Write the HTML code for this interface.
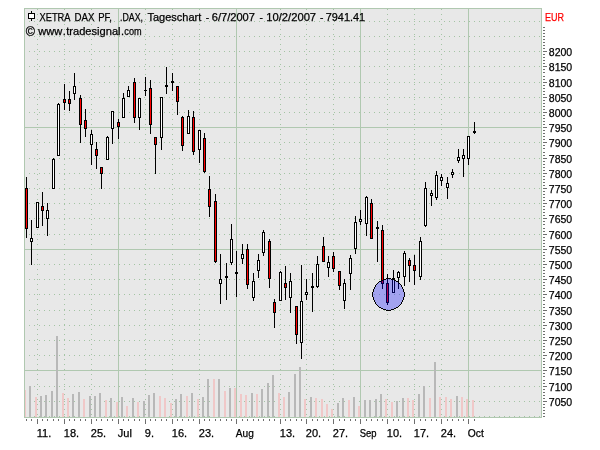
<!DOCTYPE html>
<html><head><meta charset="utf-8"><title>XETRA DAX PF</title>
<style>
html,body{margin:0;padding:0;background:#fff;}
svg{display:block}
text{font-family:"Liberation Sans",sans-serif;font-size:11px;fill:#000;stroke:#000;stroke-width:0.25px;}
</style></head><body>
<svg width="600" height="450" viewBox="0 0 600 450" shape-rendering="crispEdges">
<rect width="600" height="450" fill="#fff"/>
<rect x="24" y="8" width="518" height="410" fill="#e8e8e8"/>
<line x1="29" y1="416.5" x2="541" y2="416.5" stroke="#a4c4a4" stroke-dasharray="1 4"/>
<line x1="29" y1="401.5" x2="541" y2="401.5" stroke="#a4c4a4" stroke-dasharray="1 4"/>
<line x1="29" y1="386.5" x2="541" y2="386.5" stroke="#a4c4a4" stroke-dasharray="1 4"/>
<rect x="24" y="370" width="518" height="1" fill="#b0c8b0"/>
<line x1="29" y1="355.5" x2="541" y2="355.5" stroke="#a4c4a4" stroke-dasharray="1 4"/>
<line x1="29" y1="340.5" x2="541" y2="340.5" stroke="#a4c4a4" stroke-dasharray="1 4"/>
<line x1="29" y1="325.5" x2="541" y2="325.5" stroke="#a4c4a4" stroke-dasharray="1 4"/>
<line x1="29" y1="310.5" x2="541" y2="310.5" stroke="#a4c4a4" stroke-dasharray="1 4"/>
<line x1="29" y1="294.5" x2="541" y2="294.5" stroke="#a4c4a4" stroke-dasharray="1 4"/>
<line x1="29" y1="279.5" x2="541" y2="279.5" stroke="#a4c4a4" stroke-dasharray="1 4"/>
<line x1="29" y1="264.5" x2="541" y2="264.5" stroke="#a4c4a4" stroke-dasharray="1 4"/>
<rect x="24" y="249" width="518" height="1" fill="#b0c8b0"/>
<line x1="29" y1="234.5" x2="541" y2="234.5" stroke="#a4c4a4" stroke-dasharray="1 4"/>
<line x1="29" y1="218.5" x2="541" y2="218.5" stroke="#a4c4a4" stroke-dasharray="1 4"/>
<line x1="29" y1="203.5" x2="541" y2="203.5" stroke="#a4c4a4" stroke-dasharray="1 4"/>
<line x1="29" y1="188.5" x2="541" y2="188.5" stroke="#a4c4a4" stroke-dasharray="1 4"/>
<line x1="29" y1="173.5" x2="541" y2="173.5" stroke="#a4c4a4" stroke-dasharray="1 4"/>
<line x1="29" y1="158.5" x2="541" y2="158.5" stroke="#a4c4a4" stroke-dasharray="1 4"/>
<line x1="29" y1="142.5" x2="541" y2="142.5" stroke="#a4c4a4" stroke-dasharray="1 4"/>
<rect x="24" y="127" width="518" height="1" fill="#b0c8b0"/>
<line x1="29" y1="112.5" x2="541" y2="112.5" stroke="#a4c4a4" stroke-dasharray="1 4"/>
<line x1="29" y1="97.5" x2="541" y2="97.5" stroke="#a4c4a4" stroke-dasharray="1 4"/>
<line x1="29" y1="82.5" x2="541" y2="82.5" stroke="#a4c4a4" stroke-dasharray="1 4"/>
<line x1="29" y1="66.5" x2="541" y2="66.5" stroke="#a4c4a4" stroke-dasharray="1 4"/>
<line x1="29" y1="51.5" x2="541" y2="51.5" stroke="#a4c4a4" stroke-dasharray="1 4"/>
<line x1="29" y1="36.5" x2="541" y2="36.5" stroke="#a4c4a4" stroke-dasharray="1 4"/>
<line x1="29" y1="21.5" x2="541" y2="21.5" stroke="#a4c4a4" stroke-dasharray="1 4"/>
<rect x="118" y="8" width="1" height="410" fill="#b0c8b0"/>
<rect x="236" y="8" width="1" height="410" fill="#b0c8b0"/>
<rect x="360" y="8" width="1" height="410" fill="#b0c8b0"/>
<rect x="468" y="8" width="1" height="410" fill="#b0c8b0"/>
<line x1="37.5" y1="9" x2="37.5" y2="417" stroke="#a4c4a4" stroke-dasharray="1 4"/>
<line x1="64.5" y1="9" x2="64.5" y2="417" stroke="#a4c4a4" stroke-dasharray="1 4"/>
<line x1="91.5" y1="9" x2="91.5" y2="417" stroke="#a4c4a4" stroke-dasharray="1 4"/>
<line x1="145.5" y1="9" x2="145.5" y2="417" stroke="#a4c4a4" stroke-dasharray="1 4"/>
<line x1="172.5" y1="9" x2="172.5" y2="417" stroke="#a4c4a4" stroke-dasharray="1 4"/>
<line x1="199.5" y1="9" x2="199.5" y2="417" stroke="#a4c4a4" stroke-dasharray="1 4"/>
<line x1="280.5" y1="9" x2="280.5" y2="417" stroke="#a4c4a4" stroke-dasharray="1 4"/>
<line x1="306.5" y1="9" x2="306.5" y2="417" stroke="#a4c4a4" stroke-dasharray="1 4"/>
<line x1="333.5" y1="9" x2="333.5" y2="417" stroke="#a4c4a4" stroke-dasharray="1 4"/>
<line x1="387.5" y1="9" x2="387.5" y2="417" stroke="#a4c4a4" stroke-dasharray="1 4"/>
<line x1="414.5" y1="9" x2="414.5" y2="417" stroke="#a4c4a4" stroke-dasharray="1 4"/>
<line x1="441.5" y1="9" x2="441.5" y2="417" stroke="#a4c4a4" stroke-dasharray="1 4"/>
<rect x="24" y="390" width="2" height="27" fill="#f0c8c8"/>
<rect x="29" y="386" width="2" height="31" fill="#b8b8b8"/>
<rect x="35" y="397" width="2" height="20" fill="#f0c8c8"/>
<rect x="40" y="396" width="2" height="21" fill="#b8b8b8"/>
<rect x="45" y="395" width="2" height="22" fill="#b8b8b8"/>
<rect x="51" y="391" width="2" height="26" fill="#b8b8b8"/>
<rect x="56" y="336" width="2" height="81" fill="#b8b8b8"/>
<rect x="62" y="393" width="2" height="24" fill="#f0c8c8"/>
<rect x="67" y="398" width="2" height="19" fill="#f0c8c8"/>
<rect x="72" y="394" width="2" height="23" fill="#b8b8b8"/>
<rect x="78" y="392" width="2" height="25" fill="#b8b8b8"/>
<rect x="83" y="399" width="2" height="18" fill="#f0c8c8"/>
<rect x="89" y="396" width="2" height="21" fill="#b8b8b8"/>
<rect x="94" y="396" width="2" height="21" fill="#b8b8b8"/>
<rect x="99" y="393" width="2" height="24" fill="#b8b8b8"/>
<rect x="105" y="400" width="2" height="17" fill="#f0c8c8"/>
<rect x="110" y="398" width="2" height="19" fill="#b8b8b8"/>
<rect x="116" y="402" width="2" height="15" fill="#f0c8c8"/>
<rect x="121" y="397" width="2" height="20" fill="#b8b8b8"/>
<rect x="126" y="406" width="2" height="11" fill="#f0c8c8"/>
<rect x="132" y="398" width="2" height="19" fill="#b8b8b8"/>
<rect x="137" y="402" width="2" height="15" fill="#f0c8c8"/>
<rect x="143" y="401" width="2" height="16" fill="#b8b8b8"/>
<rect x="148" y="395" width="2" height="22" fill="#b8b8b8"/>
<rect x="153" y="393" width="2" height="24" fill="#b8b8b8"/>
<rect x="159" y="396" width="2" height="21" fill="#f0c8c8"/>
<rect x="164" y="398" width="2" height="19" fill="#f0c8c8"/>
<rect x="170" y="403" width="2" height="14" fill="#f0c8c8"/>
<rect x="175" y="399" width="2" height="18" fill="#b8b8b8"/>
<rect x="180" y="394" width="2" height="23" fill="#b8b8b8"/>
<rect x="186" y="396" width="2" height="21" fill="#f0c8c8"/>
<rect x="191" y="393" width="2" height="24" fill="#b8b8b8"/>
<rect x="197" y="399" width="2" height="18" fill="#f0c8c8"/>
<rect x="202" y="397" width="2" height="20" fill="#b8b8b8"/>
<rect x="207" y="379" width="2" height="38" fill="#b8b8b8"/>
<rect x="213" y="379" width="2" height="38" fill="#f0c8c8"/>
<rect x="218" y="379" width="2" height="38" fill="#b8b8b8"/>
<rect x="224" y="391" width="2" height="26" fill="#f0c8c8"/>
<rect x="229" y="388" width="2" height="29" fill="#b8b8b8"/>
<rect x="234" y="388" width="2" height="29" fill="#f0c8c8"/>
<rect x="240" y="394" width="2" height="23" fill="#f0c8c8"/>
<rect x="245" y="395" width="2" height="22" fill="#f0c8c8"/>
<rect x="251" y="393" width="2" height="24" fill="#b8b8b8"/>
<rect x="256" y="394" width="2" height="23" fill="#f0c8c8"/>
<rect x="261" y="389" width="2" height="28" fill="#b8b8b8"/>
<rect x="267" y="383" width="2" height="34" fill="#b8b8b8"/>
<rect x="272" y="375" width="2" height="42" fill="#b8b8b8"/>
<rect x="278" y="393" width="2" height="24" fill="#f0c8c8"/>
<rect x="283" y="397" width="2" height="20" fill="#f0c8c8"/>
<rect x="288" y="392" width="2" height="25" fill="#b8b8b8"/>
<rect x="294" y="374" width="2" height="43" fill="#b8b8b8"/>
<rect x="299" y="367" width="2" height="50" fill="#b8b8b8"/>
<rect x="304" y="399" width="2" height="18" fill="#f0c8c8"/>
<rect x="310" y="397" width="2" height="20" fill="#b8b8b8"/>
<rect x="315" y="398" width="2" height="19" fill="#f0c8c8"/>
<rect x="321" y="399" width="2" height="18" fill="#f0c8c8"/>
<rect x="326" y="404" width="2" height="13" fill="#f0c8c8"/>
<rect x="331" y="409" width="2" height="8" fill="#f0c8c8"/>
<rect x="337" y="403" width="2" height="14" fill="#b8b8b8"/>
<rect x="342" y="398" width="2" height="19" fill="#b8b8b8"/>
<rect x="348" y="400" width="2" height="17" fill="#f0c8c8"/>
<rect x="353" y="397" width="2" height="20" fill="#b8b8b8"/>
<rect x="358" y="406" width="2" height="11" fill="#f0c8c8"/>
<rect x="364" y="400" width="2" height="17" fill="#b8b8b8"/>
<rect x="369" y="400" width="2" height="17" fill="#b8b8b8"/>
<rect x="375" y="399" width="2" height="18" fill="#b8b8b8"/>
<rect x="380" y="394" width="2" height="23" fill="#b8b8b8"/>
<rect x="385" y="399" width="2" height="18" fill="#f0c8c8"/>
<rect x="391" y="402" width="2" height="15" fill="#f0c8c8"/>
<rect x="396" y="401" width="2" height="16" fill="#b8b8b8"/>
<rect x="402" y="398" width="2" height="19" fill="#b8b8b8"/>
<rect x="407" y="398" width="2" height="19" fill="#f0c8c8"/>
<rect x="412" y="400" width="2" height="17" fill="#f0c8c8"/>
<rect x="418" y="394" width="2" height="23" fill="#b8b8b8"/>
<rect x="423" y="386" width="2" height="31" fill="#b8b8b8"/>
<rect x="429" y="398" width="2" height="19" fill="#f0c8c8"/>
<rect x="434" y="362" width="2" height="55" fill="#b8b8b8"/>
<rect x="439" y="397" width="2" height="20" fill="#f0c8c8"/>
<rect x="445" y="397" width="2" height="20" fill="#f0c8c8"/>
<rect x="450" y="399" width="2" height="18" fill="#f0c8c8"/>
<rect x="456" y="396" width="2" height="21" fill="#b8b8b8"/>
<rect x="461" y="397" width="2" height="20" fill="#f0c8c8"/>
<rect x="466" y="399" width="2" height="18" fill="#f0c8c8"/>
<rect x="472" y="400" width="2" height="17" fill="#f0c8c8"/>
<rect x="24.5" y="8.5" width="517" height="409" fill="none" stroke="#b0c8b0"/>
<rect x="26" y="177" width="1" height="61" fill="#000"/>
<rect x="25" y="188" width="3" height="41" fill="#000"/>
<rect x="26" y="189" width="1" height="39" fill="#ff0000"/>
<rect x="31" y="220" width="1" height="45" fill="#000"/>
<rect x="30" y="238" width="3" height="4" fill="#000"/>
<rect x="31" y="239" width="1" height="2" fill="#fff"/>
<rect x="37" y="202" width="1" height="26" fill="#000"/>
<rect x="36" y="202" width="3" height="26" fill="#000"/>
<rect x="37" y="203" width="1" height="24" fill="#fff"/>
<rect x="42" y="192" width="1" height="34" fill="#000"/>
<rect x="41" y="206" width="3" height="5" fill="#000"/>
<rect x="42" y="207" width="1" height="3" fill="#ff0000"/>
<rect x="47" y="203" width="1" height="33" fill="#000"/>
<rect x="46" y="210" width="3" height="9" fill="#000"/>
<rect x="47" y="211" width="1" height="7" fill="#fff"/>
<rect x="53" y="158" width="1" height="31" fill="#000"/>
<rect x="52" y="159" width="3" height="30" fill="#000"/>
<rect x="53" y="160" width="1" height="28" fill="#fff"/>
<rect x="58" y="103" width="1" height="53" fill="#000"/>
<rect x="57" y="104" width="3" height="52" fill="#000"/>
<rect x="58" y="105" width="1" height="50" fill="#fff"/>
<rect x="64" y="84" width="1" height="26" fill="#000"/>
<rect x="63" y="99" width="3" height="4" fill="#000"/>
<rect x="64" y="100" width="1" height="2" fill="#ff0000"/>
<rect x="69" y="91" width="1" height="20" fill="#000"/>
<rect x="68" y="99" width="3" height="5" fill="#000"/>
<rect x="69" y="100" width="1" height="3" fill="#ff0000"/>
<rect x="74" y="73" width="1" height="27" fill="#000"/>
<rect x="73" y="86" width="3" height="8" fill="#000"/>
<rect x="74" y="87" width="1" height="6" fill="#fff"/>
<rect x="80" y="95" width="1" height="48" fill="#000"/>
<rect x="79" y="98" width="3" height="27" fill="#000"/>
<rect x="80" y="99" width="1" height="25" fill="#ff0000"/>
<rect x="85" y="109" width="1" height="28" fill="#000"/>
<rect x="84" y="120" width="3" height="9" fill="#000"/>
<rect x="85" y="121" width="1" height="7" fill="#ff0000"/>
<rect x="91" y="130" width="1" height="35" fill="#000"/>
<rect x="90" y="134" width="3" height="11" fill="#000"/>
<rect x="91" y="135" width="1" height="9" fill="#fff"/>
<rect x="96" y="142" width="1" height="27" fill="#000"/>
<rect x="95" y="149" width="3" height="7" fill="#000"/>
<rect x="96" y="150" width="1" height="5" fill="#ff0000"/>
<rect x="101" y="167" width="1" height="22" fill="#000"/>
<rect x="100" y="167" width="3" height="7" fill="#000"/>
<rect x="101" y="168" width="1" height="5" fill="#ff0000"/>
<rect x="107" y="136" width="1" height="24" fill="#000"/>
<rect x="106" y="137" width="3" height="23" fill="#000"/>
<rect x="107" y="138" width="1" height="21" fill="#fff"/>
<rect x="112" y="111" width="1" height="33" fill="#000"/>
<rect x="111" y="111" width="3" height="18" fill="#000"/>
<rect x="112" y="112" width="1" height="16" fill="#fff"/>
<rect x="118" y="119" width="1" height="20" fill="#000"/>
<rect x="117" y="122" width="3" height="5" fill="#000"/>
<rect x="118" y="123" width="1" height="3" fill="#ff0000"/>
<rect x="123" y="93" width="1" height="25" fill="#000"/>
<rect x="122" y="98" width="3" height="20" fill="#000"/>
<rect x="123" y="99" width="1" height="18" fill="#fff"/>
<rect x="128" y="86" width="1" height="11" fill="#000"/>
<rect x="127" y="90" width="3" height="7" fill="#000"/>
<rect x="128" y="91" width="1" height="5" fill="#fff"/>
<rect x="134" y="78" width="1" height="45" fill="#000"/>
<rect x="133" y="82" width="3" height="36" fill="#000"/>
<rect x="134" y="83" width="1" height="34" fill="#ff0000"/>
<rect x="139" y="98" width="1" height="32" fill="#000"/>
<rect x="138" y="98" width="3" height="20" fill="#000"/>
<rect x="139" y="99" width="1" height="18" fill="#fff"/>
<rect x="145" y="77" width="1" height="19" fill="#000"/>
<rect x="144" y="90" width="3" height="1" fill="#000"/>
<rect x="150" y="80" width="1" height="54" fill="#000"/>
<rect x="149" y="88" width="3" height="37" fill="#000"/>
<rect x="150" y="89" width="1" height="35" fill="#ff0000"/>
<rect x="155" y="137" width="1" height="37" fill="#000"/>
<rect x="154" y="137" width="3" height="8" fill="#000"/>
<rect x="155" y="138" width="1" height="6" fill="#ff0000"/>
<rect x="161" y="97" width="1" height="53" fill="#000"/>
<rect x="160" y="97" width="3" height="41" fill="#000"/>
<rect x="161" y="98" width="1" height="39" fill="#fff"/>
<rect x="166" y="67" width="1" height="27" fill="#000"/>
<rect x="165" y="85" width="3" height="2" fill="#000"/>
<rect x="172" y="73" width="1" height="18" fill="#000"/>
<rect x="171" y="81" width="3" height="2" fill="#000"/>
<rect x="177" y="86" width="1" height="29" fill="#000"/>
<rect x="176" y="86" width="3" height="16" fill="#000"/>
<rect x="177" y="87" width="1" height="14" fill="#ff0000"/>
<rect x="182" y="116" width="1" height="35" fill="#000"/>
<rect x="181" y="117" width="3" height="29" fill="#000"/>
<rect x="182" y="118" width="1" height="27" fill="#ff0000"/>
<rect x="188" y="110" width="1" height="24" fill="#000"/>
<rect x="187" y="116" width="3" height="18" fill="#000"/>
<rect x="188" y="117" width="1" height="16" fill="#fff"/>
<rect x="193" y="111" width="1" height="44" fill="#000"/>
<rect x="192" y="117" width="3" height="35" fill="#000"/>
<rect x="193" y="118" width="1" height="33" fill="#ff0000"/>
<rect x="199" y="130" width="1" height="33" fill="#000"/>
<rect x="198" y="130" width="3" height="20" fill="#000"/>
<rect x="199" y="131" width="1" height="18" fill="#fff"/>
<rect x="204" y="133" width="1" height="40" fill="#000"/>
<rect x="203" y="138" width="3" height="34" fill="#000"/>
<rect x="204" y="139" width="1" height="32" fill="#ff0000"/>
<rect x="209" y="176" width="1" height="41" fill="#000"/>
<rect x="208" y="189" width="3" height="18" fill="#000"/>
<rect x="209" y="190" width="1" height="16" fill="#ff0000"/>
<rect x="215" y="194" width="1" height="69" fill="#000"/>
<rect x="214" y="201" width="3" height="61" fill="#000"/>
<rect x="215" y="202" width="1" height="59" fill="#ff0000"/>
<rect x="220" y="254" width="1" height="50" fill="#000"/>
<rect x="219" y="279" width="3" height="5" fill="#000"/>
<rect x="220" y="280" width="1" height="3" fill="#fff"/>
<rect x="226" y="263" width="1" height="37" fill="#000"/>
<rect x="225" y="276" width="3" height="2" fill="#000"/>
<rect x="231" y="224" width="1" height="41" fill="#000"/>
<rect x="230" y="239" width="3" height="24" fill="#000"/>
<rect x="231" y="240" width="1" height="22" fill="#fff"/>
<rect x="236" y="251" width="1" height="46" fill="#000"/>
<rect x="235" y="272" width="3" height="2" fill="#000"/>
<rect x="242" y="244" width="1" height="20" fill="#000"/>
<rect x="241" y="254" width="3" height="5" fill="#000"/>
<rect x="242" y="255" width="1" height="3" fill="#fff"/>
<rect x="247" y="244" width="1" height="45" fill="#000"/>
<rect x="246" y="249" width="3" height="36" fill="#000"/>
<rect x="247" y="250" width="1" height="34" fill="#ff0000"/>
<rect x="253" y="273" width="1" height="28" fill="#000"/>
<rect x="252" y="281" width="3" height="17" fill="#000"/>
<rect x="253" y="282" width="1" height="15" fill="#fff"/>
<rect x="258" y="254" width="1" height="24" fill="#000"/>
<rect x="257" y="260" width="3" height="11" fill="#000"/>
<rect x="258" y="261" width="1" height="9" fill="#fff"/>
<rect x="263" y="230" width="1" height="26" fill="#000"/>
<rect x="262" y="232" width="3" height="21" fill="#000"/>
<rect x="263" y="233" width="1" height="19" fill="#fff"/>
<rect x="269" y="239" width="1" height="49" fill="#000"/>
<rect x="268" y="241" width="3" height="38" fill="#000"/>
<rect x="269" y="242" width="1" height="36" fill="#ff0000"/>
<rect x="274" y="299" width="1" height="29" fill="#000"/>
<rect x="273" y="302" width="3" height="11" fill="#000"/>
<rect x="274" y="303" width="1" height="9" fill="#ff0000"/>
<rect x="280" y="271" width="1" height="30" fill="#000"/>
<rect x="279" y="272" width="3" height="29" fill="#000"/>
<rect x="280" y="273" width="1" height="27" fill="#fff"/>
<rect x="285" y="266" width="1" height="34" fill="#000"/>
<rect x="284" y="283" width="3" height="5" fill="#000"/>
<rect x="285" y="284" width="1" height="3" fill="#ff0000"/>
<rect x="290" y="273" width="1" height="40" fill="#000"/>
<rect x="289" y="281" width="3" height="17" fill="#000"/>
<rect x="290" y="282" width="1" height="15" fill="#fff"/>
<rect x="296" y="306" width="1" height="38" fill="#000"/>
<rect x="295" y="306" width="3" height="29" fill="#000"/>
<rect x="296" y="307" width="1" height="27" fill="#ff0000"/>
<rect x="301" y="265" width="1" height="94" fill="#000"/>
<rect x="300" y="301" width="3" height="42" fill="#000"/>
<rect x="301" y="302" width="1" height="40" fill="#fff"/>
<rect x="306" y="279" width="1" height="21" fill="#000"/>
<rect x="305" y="292" width="3" height="3" fill="#000"/>
<rect x="306" y="293" width="1" height="1" fill="#fff"/>
<rect x="312" y="273" width="1" height="39" fill="#000"/>
<rect x="311" y="286" width="3" height="2" fill="#000"/>
<rect x="317" y="256" width="1" height="32" fill="#000"/>
<rect x="316" y="264" width="3" height="23" fill="#000"/>
<rect x="317" y="265" width="1" height="21" fill="#fff"/>
<rect x="323" y="237" width="1" height="25" fill="#000"/>
<rect x="322" y="246" width="3" height="16" fill="#000"/>
<rect x="323" y="247" width="1" height="14" fill="#ff0000"/>
<rect x="328" y="256" width="1" height="21" fill="#000"/>
<rect x="327" y="262" width="3" height="6" fill="#000"/>
<rect x="328" y="263" width="1" height="4" fill="#fff"/>
<rect x="333" y="252" width="1" height="20" fill="#000"/>
<rect x="332" y="256" width="3" height="13" fill="#000"/>
<rect x="333" y="257" width="1" height="11" fill="#ff0000"/>
<rect x="339" y="271" width="1" height="19" fill="#000"/>
<rect x="338" y="271" width="3" height="15" fill="#000"/>
<rect x="339" y="272" width="1" height="13" fill="#ff0000"/>
<rect x="344" y="279" width="1" height="30" fill="#000"/>
<rect x="343" y="283" width="3" height="18" fill="#000"/>
<rect x="344" y="284" width="1" height="16" fill="#fff"/>
<rect x="350" y="255" width="1" height="35" fill="#000"/>
<rect x="349" y="258" width="3" height="16" fill="#000"/>
<rect x="350" y="259" width="1" height="14" fill="#fff"/>
<rect x="355" y="216" width="1" height="38" fill="#000"/>
<rect x="354" y="222" width="3" height="27" fill="#000"/>
<rect x="355" y="223" width="1" height="25" fill="#fff"/>
<rect x="360" y="210" width="1" height="15" fill="#000"/>
<rect x="359" y="219" width="3" height="3" fill="#000"/>
<rect x="360" y="220" width="1" height="1" fill="#fff"/>
<rect x="366" y="196" width="1" height="40" fill="#000"/>
<rect x="365" y="197" width="3" height="27" fill="#000"/>
<rect x="366" y="198" width="1" height="25" fill="#fff"/>
<rect x="371" y="199" width="1" height="40" fill="#000"/>
<rect x="370" y="203" width="3" height="36" fill="#000"/>
<rect x="371" y="204" width="1" height="34" fill="#ff0000"/>
<rect x="377" y="221" width="1" height="41" fill="#000"/>
<rect x="376" y="227" width="3" height="2" fill="#000"/>
<rect x="382" y="225" width="1" height="64" fill="#000"/>
<rect x="381" y="230" width="3" height="54" fill="#000"/>
<rect x="382" y="231" width="1" height="52" fill="#ff0000"/>
<rect x="387" y="274" width="1" height="31" fill="#000"/>
<rect x="386" y="283" width="3" height="20" fill="#000"/>
<rect x="387" y="284" width="1" height="18" fill="#ff0000"/>
<rect x="393" y="270" width="1" height="23" fill="#000"/>
<rect x="392" y="278" width="3" height="15" fill="#000"/>
<rect x="393" y="279" width="1" height="13" fill="#fff"/>
<rect x="398" y="271" width="1" height="18" fill="#000"/>
<rect x="397" y="272" width="3" height="6" fill="#000"/>
<rect x="398" y="273" width="1" height="4" fill="#fff"/>
<rect x="404" y="251" width="1" height="35" fill="#000"/>
<rect x="403" y="253" width="3" height="24" fill="#000"/>
<rect x="404" y="254" width="1" height="22" fill="#fff"/>
<rect x="409" y="258" width="1" height="24" fill="#000"/>
<rect x="408" y="260" width="3" height="6" fill="#000"/>
<rect x="409" y="261" width="1" height="4" fill="#ff0000"/>
<rect x="414" y="255" width="1" height="30" fill="#000"/>
<rect x="413" y="265" width="3" height="6" fill="#000"/>
<rect x="414" y="266" width="1" height="4" fill="#ff0000"/>
<rect x="420" y="237" width="1" height="43" fill="#000"/>
<rect x="419" y="241" width="3" height="36" fill="#000"/>
<rect x="420" y="242" width="1" height="34" fill="#fff"/>
<rect x="425" y="182" width="1" height="45" fill="#000"/>
<rect x="424" y="188" width="3" height="38" fill="#000"/>
<rect x="425" y="189" width="1" height="36" fill="#fff"/>
<rect x="431" y="190" width="1" height="16" fill="#000"/>
<rect x="430" y="193" width="3" height="3" fill="#000"/>
<rect x="431" y="194" width="1" height="1" fill="#fff"/>
<rect x="436" y="171" width="1" height="29" fill="#000"/>
<rect x="435" y="175" width="3" height="23" fill="#000"/>
<rect x="436" y="176" width="1" height="21" fill="#fff"/>
<rect x="441" y="174" width="1" height="12" fill="#000"/>
<rect x="440" y="177" width="3" height="4" fill="#000"/>
<rect x="441" y="178" width="1" height="2" fill="#fff"/>
<rect x="447" y="177" width="1" height="22" fill="#000"/>
<rect x="446" y="183" width="3" height="5" fill="#000"/>
<rect x="447" y="184" width="1" height="3" fill="#fff"/>
<rect x="452" y="169" width="1" height="9" fill="#000"/>
<rect x="451" y="172" width="3" height="3" fill="#000"/>
<rect x="452" y="173" width="1" height="1" fill="#fff"/>
<rect x="458" y="149" width="1" height="14" fill="#000"/>
<rect x="457" y="157" width="3" height="4" fill="#000"/>
<rect x="458" y="158" width="1" height="2" fill="#fff"/>
<rect x="463" y="149" width="1" height="28" fill="#000"/>
<rect x="462" y="155" width="3" height="4" fill="#000"/>
<rect x="463" y="156" width="1" height="2" fill="#fff"/>
<rect x="468" y="136" width="1" height="29" fill="#000"/>
<rect x="467" y="136" width="3" height="23" fill="#000"/>
<rect x="468" y="137" width="1" height="21" fill="#fff"/>
<path d="M386 278h5v1h-5zM383 279h11v1h-11zM381 280h15v1h-15zM379 281h19v1h-19zM378 282h21v1h-21zM377 283h23v1h-23zM376 284h25v1h-25zM375 285h27v1h-27zM375 286h27v1h-27zM374 287h29v1h-29zM374 288h29v1h-29zM373 289h31v1h-31zM373 290h31v1h-31zM373 291h31v1h-31zM372 292h33v1h-33zM372 293h33v1h-33zM372 294h33v1h-33zM372 295h33v1h-33zM372 296h33v1h-33zM373 297h31v1h-31zM373 298h31v1h-31zM373 299h31v1h-31zM374 300h29v1h-29zM374 301h29v1h-29zM375 302h27v1h-27zM375 303h27v1h-27zM376 304h25v1h-25zM377 305h23v1h-23zM378 306h21v1h-21zM379 307h19v1h-19zM381 308h15v1h-15zM383 309h11v1h-11zM386 310h5v1h-5z" fill="rgba(0,0,255,0.3)"/>
<path d="M386 278h5v1h-5zM383 279h3v1h-3zM391 279h3v1h-3zM381 280h2v1h-2zM394 280h2v1h-2zM379 281h2v1h-2zM396 281h2v1h-2zM378 282h1v1h-1zM398 282h1v1h-1zM377 283h1v1h-1zM399 283h1v1h-1zM376 284h1v1h-1zM400 284h1v1h-1zM375 285h1v1h-1zM401 285h1v1h-1zM375 286h1v1h-1zM401 286h1v1h-1zM374 287h1v1h-1zM402 287h1v1h-1zM374 288h1v1h-1zM402 288h1v1h-1zM373 289h1v1h-1zM403 289h1v1h-1zM373 290h1v1h-1zM403 290h1v1h-1zM373 291h1v1h-1zM403 291h1v1h-1zM372 292h1v1h-1zM404 292h1v1h-1zM372 293h1v1h-1zM404 293h1v1h-1zM372 294h1v1h-1zM404 294h1v1h-1zM372 295h1v1h-1zM404 295h1v1h-1zM372 296h1v1h-1zM404 296h1v1h-1zM373 297h1v1h-1zM403 297h1v1h-1zM373 298h1v1h-1zM403 298h1v1h-1zM373 299h1v1h-1zM403 299h1v1h-1zM374 300h1v1h-1zM402 300h1v1h-1zM374 301h1v1h-1zM402 301h1v1h-1zM375 302h1v1h-1zM401 302h1v1h-1zM375 303h1v1h-1zM401 303h1v1h-1zM376 304h1v1h-1zM400 304h1v1h-1zM377 305h1v1h-1zM399 305h1v1h-1zM378 306h1v1h-1zM398 306h1v1h-1zM379 307h2v1h-2zM396 307h2v1h-2zM381 308h2v1h-2zM394 308h2v1h-2zM383 309h3v1h-3zM391 309h3v1h-3zM386 310h5v1h-5z" fill="#000"/>
<rect x="474" y="122" width="1" height="12" fill="#000"/>
<rect x="473" y="131" width="3" height="2" fill="#000"/>
<rect x="543" y="27" width="2" height="1" fill="#6e6e6e"/>
<rect x="543" y="30" width="2" height="1" fill="#6e6e6e"/>
<rect x="543" y="33" width="2" height="1" fill="#6e6e6e"/>
<rect x="543" y="36" width="2" height="1" fill="#6e6e6e"/>
<rect x="543" y="39" width="2" height="1" fill="#6e6e6e"/>
<rect x="543" y="42" width="2" height="1" fill="#6e6e6e"/>
<rect x="543" y="45" width="2" height="1" fill="#6e6e6e"/>
<rect x="543" y="48" width="2" height="1" fill="#6e6e6e"/>
<rect x="543" y="51" width="4" height="1" fill="#6e6e6e"/>
<rect x="543" y="54" width="2" height="1" fill="#6e6e6e"/>
<rect x="543" y="57" width="2" height="1" fill="#6e6e6e"/>
<rect x="543" y="60" width="2" height="1" fill="#6e6e6e"/>
<rect x="543" y="63" width="2" height="1" fill="#6e6e6e"/>
<rect x="543" y="66" width="4" height="1" fill="#6e6e6e"/>
<rect x="543" y="69" width="2" height="1" fill="#6e6e6e"/>
<rect x="543" y="72" width="2" height="1" fill="#6e6e6e"/>
<rect x="543" y="76" width="2" height="1" fill="#6e6e6e"/>
<rect x="543" y="79" width="2" height="1" fill="#6e6e6e"/>
<rect x="543" y="82" width="4" height="1" fill="#6e6e6e"/>
<rect x="543" y="85" width="2" height="1" fill="#6e6e6e"/>
<rect x="543" y="88" width="2" height="1" fill="#6e6e6e"/>
<rect x="543" y="91" width="2" height="1" fill="#6e6e6e"/>
<rect x="543" y="94" width="2" height="1" fill="#6e6e6e"/>
<rect x="543" y="97" width="4" height="1" fill="#6e6e6e"/>
<rect x="543" y="100" width="2" height="1" fill="#6e6e6e"/>
<rect x="543" y="103" width="2" height="1" fill="#6e6e6e"/>
<rect x="543" y="106" width="2" height="1" fill="#6e6e6e"/>
<rect x="543" y="109" width="2" height="1" fill="#6e6e6e"/>
<rect x="543" y="112" width="4" height="1" fill="#6e6e6e"/>
<rect x="543" y="115" width="2" height="1" fill="#6e6e6e"/>
<rect x="543" y="118" width="2" height="1" fill="#6e6e6e"/>
<rect x="543" y="121" width="2" height="1" fill="#6e6e6e"/>
<rect x="543" y="124" width="2" height="1" fill="#6e6e6e"/>
<rect x="543" y="127" width="4" height="1" fill="#6e6e6e"/>
<rect x="543" y="130" width="2" height="1" fill="#6e6e6e"/>
<rect x="543" y="133" width="2" height="1" fill="#6e6e6e"/>
<rect x="543" y="136" width="2" height="1" fill="#6e6e6e"/>
<rect x="543" y="139" width="2" height="1" fill="#6e6e6e"/>
<rect x="543" y="142" width="4" height="1" fill="#6e6e6e"/>
<rect x="543" y="145" width="2" height="1" fill="#6e6e6e"/>
<rect x="543" y="148" width="2" height="1" fill="#6e6e6e"/>
<rect x="543" y="152" width="2" height="1" fill="#6e6e6e"/>
<rect x="543" y="155" width="2" height="1" fill="#6e6e6e"/>
<rect x="543" y="158" width="4" height="1" fill="#6e6e6e"/>
<rect x="543" y="161" width="2" height="1" fill="#6e6e6e"/>
<rect x="543" y="164" width="2" height="1" fill="#6e6e6e"/>
<rect x="543" y="167" width="2" height="1" fill="#6e6e6e"/>
<rect x="543" y="170" width="2" height="1" fill="#6e6e6e"/>
<rect x="543" y="173" width="4" height="1" fill="#6e6e6e"/>
<rect x="543" y="176" width="2" height="1" fill="#6e6e6e"/>
<rect x="543" y="179" width="2" height="1" fill="#6e6e6e"/>
<rect x="543" y="182" width="2" height="1" fill="#6e6e6e"/>
<rect x="543" y="185" width="2" height="1" fill="#6e6e6e"/>
<rect x="543" y="188" width="4" height="1" fill="#6e6e6e"/>
<rect x="543" y="191" width="2" height="1" fill="#6e6e6e"/>
<rect x="543" y="194" width="2" height="1" fill="#6e6e6e"/>
<rect x="543" y="197" width="2" height="1" fill="#6e6e6e"/>
<rect x="543" y="200" width="2" height="1" fill="#6e6e6e"/>
<rect x="543" y="203" width="4" height="1" fill="#6e6e6e"/>
<rect x="543" y="206" width="2" height="1" fill="#6e6e6e"/>
<rect x="543" y="209" width="2" height="1" fill="#6e6e6e"/>
<rect x="543" y="212" width="2" height="1" fill="#6e6e6e"/>
<rect x="543" y="215" width="2" height="1" fill="#6e6e6e"/>
<rect x="543" y="218" width="4" height="1" fill="#6e6e6e"/>
<rect x="543" y="221" width="2" height="1" fill="#6e6e6e"/>
<rect x="543" y="224" width="2" height="1" fill="#6e6e6e"/>
<rect x="543" y="228" width="2" height="1" fill="#6e6e6e"/>
<rect x="543" y="231" width="2" height="1" fill="#6e6e6e"/>
<rect x="543" y="234" width="4" height="1" fill="#6e6e6e"/>
<rect x="543" y="237" width="2" height="1" fill="#6e6e6e"/>
<rect x="543" y="240" width="2" height="1" fill="#6e6e6e"/>
<rect x="543" y="243" width="2" height="1" fill="#6e6e6e"/>
<rect x="543" y="246" width="2" height="1" fill="#6e6e6e"/>
<rect x="543" y="249" width="4" height="1" fill="#6e6e6e"/>
<rect x="543" y="252" width="2" height="1" fill="#6e6e6e"/>
<rect x="543" y="255" width="2" height="1" fill="#6e6e6e"/>
<rect x="543" y="258" width="2" height="1" fill="#6e6e6e"/>
<rect x="543" y="261" width="2" height="1" fill="#6e6e6e"/>
<rect x="543" y="264" width="4" height="1" fill="#6e6e6e"/>
<rect x="543" y="267" width="2" height="1" fill="#6e6e6e"/>
<rect x="543" y="270" width="2" height="1" fill="#6e6e6e"/>
<rect x="543" y="273" width="2" height="1" fill="#6e6e6e"/>
<rect x="543" y="276" width="2" height="1" fill="#6e6e6e"/>
<rect x="543" y="279" width="4" height="1" fill="#6e6e6e"/>
<rect x="543" y="282" width="2" height="1" fill="#6e6e6e"/>
<rect x="543" y="285" width="2" height="1" fill="#6e6e6e"/>
<rect x="543" y="288" width="2" height="1" fill="#6e6e6e"/>
<rect x="543" y="291" width="2" height="1" fill="#6e6e6e"/>
<rect x="543" y="294" width="4" height="1" fill="#6e6e6e"/>
<rect x="543" y="297" width="2" height="1" fill="#6e6e6e"/>
<rect x="543" y="300" width="2" height="1" fill="#6e6e6e"/>
<rect x="543" y="304" width="2" height="1" fill="#6e6e6e"/>
<rect x="543" y="307" width="2" height="1" fill="#6e6e6e"/>
<rect x="543" y="310" width="4" height="1" fill="#6e6e6e"/>
<rect x="543" y="313" width="2" height="1" fill="#6e6e6e"/>
<rect x="543" y="316" width="2" height="1" fill="#6e6e6e"/>
<rect x="543" y="319" width="2" height="1" fill="#6e6e6e"/>
<rect x="543" y="322" width="2" height="1" fill="#6e6e6e"/>
<rect x="543" y="325" width="4" height="1" fill="#6e6e6e"/>
<rect x="543" y="328" width="2" height="1" fill="#6e6e6e"/>
<rect x="543" y="331" width="2" height="1" fill="#6e6e6e"/>
<rect x="543" y="334" width="2" height="1" fill="#6e6e6e"/>
<rect x="543" y="337" width="2" height="1" fill="#6e6e6e"/>
<rect x="543" y="340" width="4" height="1" fill="#6e6e6e"/>
<rect x="543" y="343" width="2" height="1" fill="#6e6e6e"/>
<rect x="543" y="346" width="2" height="1" fill="#6e6e6e"/>
<rect x="543" y="349" width="2" height="1" fill="#6e6e6e"/>
<rect x="543" y="352" width="2" height="1" fill="#6e6e6e"/>
<rect x="543" y="355" width="4" height="1" fill="#6e6e6e"/>
<rect x="543" y="358" width="2" height="1" fill="#6e6e6e"/>
<rect x="543" y="361" width="2" height="1" fill="#6e6e6e"/>
<rect x="543" y="364" width="2" height="1" fill="#6e6e6e"/>
<rect x="543" y="367" width="2" height="1" fill="#6e6e6e"/>
<rect x="543" y="370" width="4" height="1" fill="#6e6e6e"/>
<rect x="543" y="373" width="2" height="1" fill="#6e6e6e"/>
<rect x="543" y="376" width="2" height="1" fill="#6e6e6e"/>
<rect x="543" y="380" width="2" height="1" fill="#6e6e6e"/>
<rect x="543" y="383" width="2" height="1" fill="#6e6e6e"/>
<rect x="543" y="386" width="4" height="1" fill="#6e6e6e"/>
<rect x="543" y="389" width="2" height="1" fill="#6e6e6e"/>
<rect x="543" y="392" width="2" height="1" fill="#6e6e6e"/>
<rect x="543" y="395" width="2" height="1" fill="#6e6e6e"/>
<rect x="543" y="398" width="2" height="1" fill="#6e6e6e"/>
<rect x="543" y="401" width="4" height="1" fill="#6e6e6e"/>
<rect x="543" y="404" width="2" height="1" fill="#6e6e6e"/>
<rect x="543" y="407" width="2" height="1" fill="#6e6e6e"/>
<rect x="543" y="410" width="2" height="1" fill="#6e6e6e"/>
<rect x="543" y="413" width="2" height="1" fill="#6e6e6e"/>
<rect x="543" y="416" width="2" height="1" fill="#6e6e6e"/>
<rect x="26" y="419" width="1" height="2" fill="#6e6e6e"/>
<rect x="31" y="419" width="1" height="2" fill="#6e6e6e"/>
<rect x="37" y="419" width="1" height="5" fill="#6e6e6e"/>
<rect x="42" y="419" width="1" height="2" fill="#6e6e6e"/>
<rect x="47" y="419" width="1" height="2" fill="#6e6e6e"/>
<rect x="53" y="419" width="1" height="2" fill="#6e6e6e"/>
<rect x="58" y="419" width="1" height="2" fill="#6e6e6e"/>
<rect x="64" y="419" width="1" height="5" fill="#6e6e6e"/>
<rect x="69" y="419" width="1" height="2" fill="#6e6e6e"/>
<rect x="74" y="419" width="1" height="2" fill="#6e6e6e"/>
<rect x="80" y="419" width="1" height="2" fill="#6e6e6e"/>
<rect x="85" y="419" width="1" height="2" fill="#6e6e6e"/>
<rect x="91" y="419" width="1" height="5" fill="#6e6e6e"/>
<rect x="96" y="419" width="1" height="2" fill="#6e6e6e"/>
<rect x="101" y="419" width="1" height="2" fill="#6e6e6e"/>
<rect x="107" y="419" width="1" height="2" fill="#6e6e6e"/>
<rect x="112" y="419" width="1" height="2" fill="#6e6e6e"/>
<rect x="118" y="419" width="1" height="5" fill="#6e6e6e"/>
<rect x="123" y="419" width="1" height="2" fill="#6e6e6e"/>
<rect x="128" y="419" width="1" height="2" fill="#6e6e6e"/>
<rect x="134" y="419" width="1" height="2" fill="#6e6e6e"/>
<rect x="139" y="419" width="1" height="2" fill="#6e6e6e"/>
<rect x="145" y="419" width="1" height="5" fill="#6e6e6e"/>
<rect x="150" y="419" width="1" height="2" fill="#6e6e6e"/>
<rect x="155" y="419" width="1" height="2" fill="#6e6e6e"/>
<rect x="161" y="419" width="1" height="2" fill="#6e6e6e"/>
<rect x="166" y="419" width="1" height="2" fill="#6e6e6e"/>
<rect x="172" y="419" width="1" height="5" fill="#6e6e6e"/>
<rect x="177" y="419" width="1" height="2" fill="#6e6e6e"/>
<rect x="182" y="419" width="1" height="2" fill="#6e6e6e"/>
<rect x="188" y="419" width="1" height="2" fill="#6e6e6e"/>
<rect x="193" y="419" width="1" height="2" fill="#6e6e6e"/>
<rect x="199" y="419" width="1" height="5" fill="#6e6e6e"/>
<rect x="204" y="419" width="1" height="2" fill="#6e6e6e"/>
<rect x="209" y="419" width="1" height="2" fill="#6e6e6e"/>
<rect x="215" y="419" width="1" height="2" fill="#6e6e6e"/>
<rect x="220" y="419" width="1" height="2" fill="#6e6e6e"/>
<rect x="226" y="419" width="1" height="2" fill="#6e6e6e"/>
<rect x="231" y="419" width="1" height="2" fill="#6e6e6e"/>
<rect x="236" y="419" width="1" height="5" fill="#6e6e6e"/>
<rect x="242" y="419" width="1" height="2" fill="#6e6e6e"/>
<rect x="247" y="419" width="1" height="2" fill="#6e6e6e"/>
<rect x="253" y="419" width="1" height="2" fill="#6e6e6e"/>
<rect x="258" y="419" width="1" height="2" fill="#6e6e6e"/>
<rect x="263" y="419" width="1" height="2" fill="#6e6e6e"/>
<rect x="269" y="419" width="1" height="2" fill="#6e6e6e"/>
<rect x="274" y="419" width="1" height="2" fill="#6e6e6e"/>
<rect x="280" y="419" width="1" height="5" fill="#6e6e6e"/>
<rect x="285" y="419" width="1" height="2" fill="#6e6e6e"/>
<rect x="290" y="419" width="1" height="2" fill="#6e6e6e"/>
<rect x="296" y="419" width="1" height="2" fill="#6e6e6e"/>
<rect x="301" y="419" width="1" height="2" fill="#6e6e6e"/>
<rect x="306" y="419" width="1" height="5" fill="#6e6e6e"/>
<rect x="312" y="419" width="1" height="2" fill="#6e6e6e"/>
<rect x="317" y="419" width="1" height="2" fill="#6e6e6e"/>
<rect x="323" y="419" width="1" height="2" fill="#6e6e6e"/>
<rect x="328" y="419" width="1" height="2" fill="#6e6e6e"/>
<rect x="333" y="419" width="1" height="5" fill="#6e6e6e"/>
<rect x="339" y="419" width="1" height="2" fill="#6e6e6e"/>
<rect x="344" y="419" width="1" height="2" fill="#6e6e6e"/>
<rect x="350" y="419" width="1" height="2" fill="#6e6e6e"/>
<rect x="355" y="419" width="1" height="2" fill="#6e6e6e"/>
<rect x="360" y="419" width="1" height="5" fill="#6e6e6e"/>
<rect x="366" y="419" width="1" height="2" fill="#6e6e6e"/>
<rect x="371" y="419" width="1" height="2" fill="#6e6e6e"/>
<rect x="377" y="419" width="1" height="2" fill="#6e6e6e"/>
<rect x="382" y="419" width="1" height="2" fill="#6e6e6e"/>
<rect x="387" y="419" width="1" height="5" fill="#6e6e6e"/>
<rect x="393" y="419" width="1" height="2" fill="#6e6e6e"/>
<rect x="398" y="419" width="1" height="2" fill="#6e6e6e"/>
<rect x="404" y="419" width="1" height="2" fill="#6e6e6e"/>
<rect x="409" y="419" width="1" height="2" fill="#6e6e6e"/>
<rect x="414" y="419" width="1" height="5" fill="#6e6e6e"/>
<rect x="420" y="419" width="1" height="2" fill="#6e6e6e"/>
<rect x="425" y="419" width="1" height="2" fill="#6e6e6e"/>
<rect x="431" y="419" width="1" height="2" fill="#6e6e6e"/>
<rect x="436" y="419" width="1" height="2" fill="#6e6e6e"/>
<rect x="441" y="419" width="1" height="5" fill="#6e6e6e"/>
<rect x="447" y="419" width="1" height="2" fill="#6e6e6e"/>
<rect x="452" y="419" width="1" height="2" fill="#6e6e6e"/>
<rect x="458" y="419" width="1" height="2" fill="#6e6e6e"/>
<rect x="463" y="419" width="1" height="2" fill="#6e6e6e"/>
<rect x="468" y="419" width="1" height="5" fill="#6e6e6e"/>
<rect x="474" y="419" width="1" height="2" fill="#6e6e6e"/>
<rect x="31" y="11" width="1" height="10" fill="#000"/>
<rect x="28.5" y="13.5" width="6" height="5" fill="#fff" stroke="#000"/>
<g>
<text x="548.8" y="405.6" textLength="23.4" lengthAdjust="spacingAndGlyphs">7050</text>
<text x="548.8" y="390.6" textLength="23.4" lengthAdjust="spacingAndGlyphs">7100</text>
<text x="548.8" y="374.6" textLength="23.4" lengthAdjust="spacingAndGlyphs">7150</text>
<text x="548.8" y="359.6" textLength="23.4" lengthAdjust="spacingAndGlyphs">7200</text>
<text x="548.8" y="344.6" textLength="23.4" lengthAdjust="spacingAndGlyphs">7250</text>
<text x="548.8" y="329.6" textLength="23.4" lengthAdjust="spacingAndGlyphs">7300</text>
<text x="548.8" y="314.6" textLength="23.4" lengthAdjust="spacingAndGlyphs">7350</text>
<text x="548.8" y="298.6" textLength="23.4" lengthAdjust="spacingAndGlyphs">7400</text>
<text x="548.8" y="283.6" textLength="23.4" lengthAdjust="spacingAndGlyphs">7450</text>
<text x="548.8" y="268.6" textLength="23.4" lengthAdjust="spacingAndGlyphs">7500</text>
<text x="548.8" y="253.6" textLength="23.4" lengthAdjust="spacingAndGlyphs">7550</text>
<text x="548.8" y="238.6" textLength="23.4" lengthAdjust="spacingAndGlyphs">7600</text>
<text x="548.8" y="222.6" textLength="23.4" lengthAdjust="spacingAndGlyphs">7650</text>
<text x="548.8" y="207.6" textLength="23.4" lengthAdjust="spacingAndGlyphs">7700</text>
<text x="548.8" y="192.6" textLength="23.4" lengthAdjust="spacingAndGlyphs">7750</text>
<text x="548.8" y="177.6" textLength="23.4" lengthAdjust="spacingAndGlyphs">7800</text>
<text x="548.8" y="162.6" textLength="23.4" lengthAdjust="spacingAndGlyphs">7850</text>
<text x="548.8" y="146.6" textLength="23.4" lengthAdjust="spacingAndGlyphs">7900</text>
<text x="548.8" y="131.6" textLength="23.4" lengthAdjust="spacingAndGlyphs">7950</text>
<text x="548.8" y="116.6" textLength="23.4" lengthAdjust="spacingAndGlyphs">8000</text>
<text x="548.8" y="101.6" textLength="23.4" lengthAdjust="spacingAndGlyphs">8050</text>
<text x="548.8" y="86.6" textLength="23.4" lengthAdjust="spacingAndGlyphs">8100</text>
<text x="548.8" y="70.6" textLength="23.4" lengthAdjust="spacingAndGlyphs">8150</text>
<text x="548.8" y="55.6" textLength="23.4" lengthAdjust="spacingAndGlyphs">8200</text>
<text x="36.8" y="437">11.</text>
<text x="63.8" y="437">18.</text>
<text x="90.8" y="437">25.</text>
<text x="117.8" y="437">Jul</text>
<text x="144.8" y="437">9.</text>
<text x="171.8" y="437">16.</text>
<text x="198.8" y="437">23.</text>
<text x="235.8" y="437" textLength="18" lengthAdjust="spacingAndGlyphs">Aug</text>
<text x="279.8" y="437">13.</text>
<text x="305.8" y="437">20.</text>
<text x="332.8" y="437">27.</text>
<text x="359.8" y="437" textLength="16.8" lengthAdjust="spacingAndGlyphs">Sep</text>
<text x="386.8" y="437">10.</text>
<text x="413.8" y="437">17.</text>
<text x="440.8" y="437">24.</text>
<text x="467.8" y="437" textLength="16" lengthAdjust="spacingAndGlyphs">Oct</text>
<text x="545" y="21" style="fill:#ff0000;stroke:#ff0000" textLength="19" lengthAdjust="spacingAndGlyphs">EUR</text>
<text y="21"><tspan x="39.5" textLength="30.5" lengthAdjust="spacingAndGlyphs">XETRA</tspan> <tspan x="74.5" textLength="20.0" lengthAdjust="spacingAndGlyphs">DAX</tspan> <tspan x="98.25" textLength="13.75" lengthAdjust="spacingAndGlyphs">PF,</tspan> <tspan x="120" textLength="23" lengthAdjust="spacingAndGlyphs">.DAX,</tspan> <tspan x="147.5" textLength="53.75" lengthAdjust="spacingAndGlyphs">Tageschart</tspan> <tspan x="205.8" textLength="3.3999999999999773" lengthAdjust="spacingAndGlyphs">-</tspan> <tspan x="211.75" textLength="43.150000000000006" lengthAdjust="spacingAndGlyphs">6/7/2007</tspan> <tspan x="259.5" textLength="3.3999999999999773" lengthAdjust="spacingAndGlyphs">-</tspan> <tspan x="266.25" textLength="49.85000000000002" lengthAdjust="spacingAndGlyphs">10/2/2007</tspan> <tspan x="320" textLength="3.3999999999999773" lengthAdjust="spacingAndGlyphs">-</tspan> <tspan x="325.75" textLength="39.35000000000002" lengthAdjust="spacingAndGlyphs">7941.41</tspan></text>
<text y="35"><tspan x="25.7" y="35.6" style="font-size:12.5px">©</tspan> <tspan x="38.2" y="35" textLength="24" lengthAdjust="spacingAndGlyphs">www</tspan><tspan x="62.7">.</tspan><tspan x="66.2" textLength="54.4" lengthAdjust="spacingAndGlyphs">tradesignal</tspan><tspan x="121">.</tspan><tspan x="124.3" textLength="17.3" lengthAdjust="spacingAndGlyphs">com</tspan></text>
</g>
</svg>
</body></html>
